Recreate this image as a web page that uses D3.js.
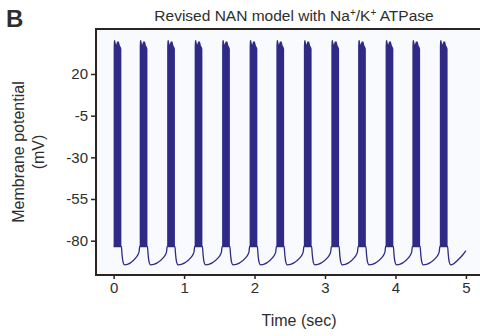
<!DOCTYPE html>
<html>
<head>
<meta charset="utf-8">
<script src="https://cdn.jsdelivr.net/npm/d3@7"></script>
<style>
  html, body { margin: 0; padding: 0; background: #ffffff; }
  svg { display: block; }
  text { font-family: "Liberation Sans", Arial, sans-serif; fill: #2e2e2e; }
</style>
</head>
<body>
<svg id="chart" width="480" height="336"></svg>
<script>
// ---- data ----
const xTicks = [0, 1, 2, 3, 4, 5];
const yTicks = [20, -5, -30, -55, -80];
// burst (spike train) start times, seconds
const burstStart = [0.00, 0.37, 0.76, 1.15, 1.54, 1.93, 2.31, 2.70, 3.09, 3.47, 3.86, 4.24, 4.63];
// envelope of one burst: time offset from burst start (s) and upper envelope (mV)
const burstEnvT = [0, 0.004, 0.02, 0.035, 0.05, 0.075, 0.09, 0.103, 0.11];
const burstEnvV = [37, 40, 40.5, 37.5, 39.5, 39.5, 37, 36, 35];
const burstBottom = -83.5;
// membrane potential trace between bursts [time (s), mV]
const trace = [
  [0.00,-83.5],[0.11,-83.5],[0.12,-88.5],[0.135,-93],[0.155,-94.5],[0.32,-90],[0.35,-88],[0.362,-86.5],[0.37,-83.5],
  [0.48,-83.5],[0.49,-88.5],[0.505,-93],[0.525,-94.5],[0.71,-90],[0.74,-88],[0.752,-86.5],[0.76,-83.5],
  [0.87,-83.5],[0.88,-88.5],[0.895,-93],[0.915,-94.5],[1.10,-90],[1.13,-88],[1.142,-86.5],[1.15,-83.5],
  [1.26,-83.5],[1.27,-88.5],[1.285,-93],[1.305,-94.5],[1.49,-90],[1.52,-88],[1.532,-86.5],[1.54,-83.5],
  [1.65,-83.5],[1.66,-88.5],[1.675,-93],[1.695,-94.5],[1.88,-90],[1.91,-88],[1.922,-86.5],[1.93,-83.5],
  [2.04,-83.5],[2.05,-88.5],[2.065,-93],[2.085,-94.5],[2.26,-90],[2.29,-88],[2.302,-86.5],[2.31,-83.5],
  [2.42,-83.5],[2.43,-88.5],[2.445,-93],[2.465,-94.5],[2.65,-90],[2.68,-88],[2.692,-86.5],[2.70,-83.5],
  [2.81,-83.5],[2.82,-88.5],[2.835,-93],[2.855,-94.5],[3.04,-90],[3.07,-88],[3.082,-86.5],[3.09,-83.5],
  [3.20,-83.5],[3.21,-88.5],[3.225,-93],[3.245,-94.5],[3.42,-90],[3.45,-88],[3.462,-86.5],[3.47,-83.5],
  [3.58,-83.5],[3.59,-88.5],[3.605,-93],[3.625,-94.5],[3.81,-90],[3.84,-88],[3.852,-86.5],[3.86,-83.5],
  [3.97,-83.5],[3.98,-88.5],[3.995,-93],[4.015,-94.5],[4.19,-90],[4.22,-88],[4.232,-86.5],[4.24,-83.5],
  [4.35,-83.5],[4.36,-88.5],[4.375,-93],[4.395,-94.5],[4.58,-90],[4.61,-88],[4.622,-86.5],[4.63,-83.5],
  [4.74,-83.5],[4.75,-88.5],[4.765,-93],[4.785,-94.5],[4.90,-91],[4.96,-88.3],[5.00,-86]
];

// ---- layout ----
const svg = d3.select("#chart");
const pL = 96, pR = 480, pT = 29, pB = 275;
const x = d3.scaleLinear().domain([-0.25, 5.2]).range([pL, pR]);
const y = d3.scaleLinear().domain([-100.6, 47]).range([pB, pT]);
const traceColor = "#2f2a86";
const frameColor = "#2a2520";

// plot background
svg.append("rect").attr("x", pL).attr("y", pT)
  .attr("width", pR - pL).attr("height", pB - pT)
  .attr("fill", "#f8fafe");

svg.append("clipPath").attr("id", "clip")
  .append("rect").attr("x", pL).attr("y", pT).attr("width", pR - pL).attr("height", pB - pT);
const g = svg.append("g").attr("clip-path", "url(#clip)");

// bursts as filled bands (spike envelope)
const burstArea = d3.area()
  .x(d => x(d[0])).y0(y(burstBottom)).y1(d => y(d[1]));
g.selectAll("path.burst").data(burstStart).join("path")
  .attr("class", "burst")
  .attr("d", s => burstArea(burstEnvT.map((t, k) => [s + t, burstEnvV[k]])))
  .attr("fill", traceColor);

// interburst trace
const line = d3.line().x(d => x(d[0])).y(d => y(d[1])).curve(d3.curveMonotoneX);
g.append("path").datum(trace)
  .attr("d", line)
  .attr("fill", "none")
  .attr("stroke", traceColor)
  .attr("stroke-width", 1.3);

// axes
const fmt = d => String(d);
const xAxis = d3.axisBottom(x).tickValues(xTicks).tickFormat(fmt).tickSize(4).tickSizeOuter(0);
const gx = svg.append("g").attr("transform", `translate(0,${pB})`).call(xAxis);
gx.select(".domain").remove();
gx.selectAll(".tick line").attr("stroke", frameColor).attr("stroke-width", 1.5);
gx.selectAll(".tick text").attr("font-size", 15).attr("font-family", "Liberation Sans, Arial, sans-serif")
  .attr("fill", "#2e2e2e").attr("dy", "0.71em").attr("y", 7);

const yAxis = d3.axisLeft(y).tickValues(yTicks).tickFormat(fmt).tickSize(5).tickSizeOuter(0);
const gy = svg.append("g").attr("transform", `translate(${pL},0)`).call(yAxis);
gy.select(".domain").remove();
gy.selectAll(".tick line").attr("stroke", frameColor).attr("stroke-width", 1.5);
gy.selectAll(".tick text").attr("font-size", 15).attr("font-family", "Liberation Sans, Arial, sans-serif")
  .attr("fill", "#2e2e2e").attr("x", -8);

// frame (left, top, bottom)
svg.append("path")
  .attr("d", `M${pR},${pT}H${pL}V${pB}H${pR}`)
  .attr("fill", "none").attr("stroke", frameColor).attr("stroke-width", 2);

// title
const title = svg.append("text").attr("x", 294).attr("y", 21).attr("text-anchor", "middle")
  .attr("font-size", 15.5);
title.append("tspan").text("Revised NAN model with Na");
title.append("tspan").attr("font-size", 10).attr("dy", -5).text("+");
title.append("tspan").attr("dy", 5).text("/K");
title.append("tspan").attr("font-size", 10).attr("dy", -5).text("+");
title.append("tspan").attr("dy", 5).text(" ATPase");

// panel letter
svg.append("text").attr("x", 6).attr("y", 27).attr("font-size", 24).attr("font-weight", "bold")
  .attr("fill", "#1c1a17").text("B");

// axis titles
svg.append("text").attr("x", 299).attr("y", 326).attr("text-anchor", "middle")
  .attr("font-size", 16).text("Time (sec)");
const yl = svg.append("text").attr("transform", "translate(24,152) rotate(-90)")
  .attr("text-anchor", "middle").attr("font-size", 16);
yl.append("tspan").attr("x", 0).attr("dy", 0).text("Membrane potential");
yl.append("tspan").attr("x", 0).attr("dy", 20).text("(mV)");
</script>
</body>
</html>
